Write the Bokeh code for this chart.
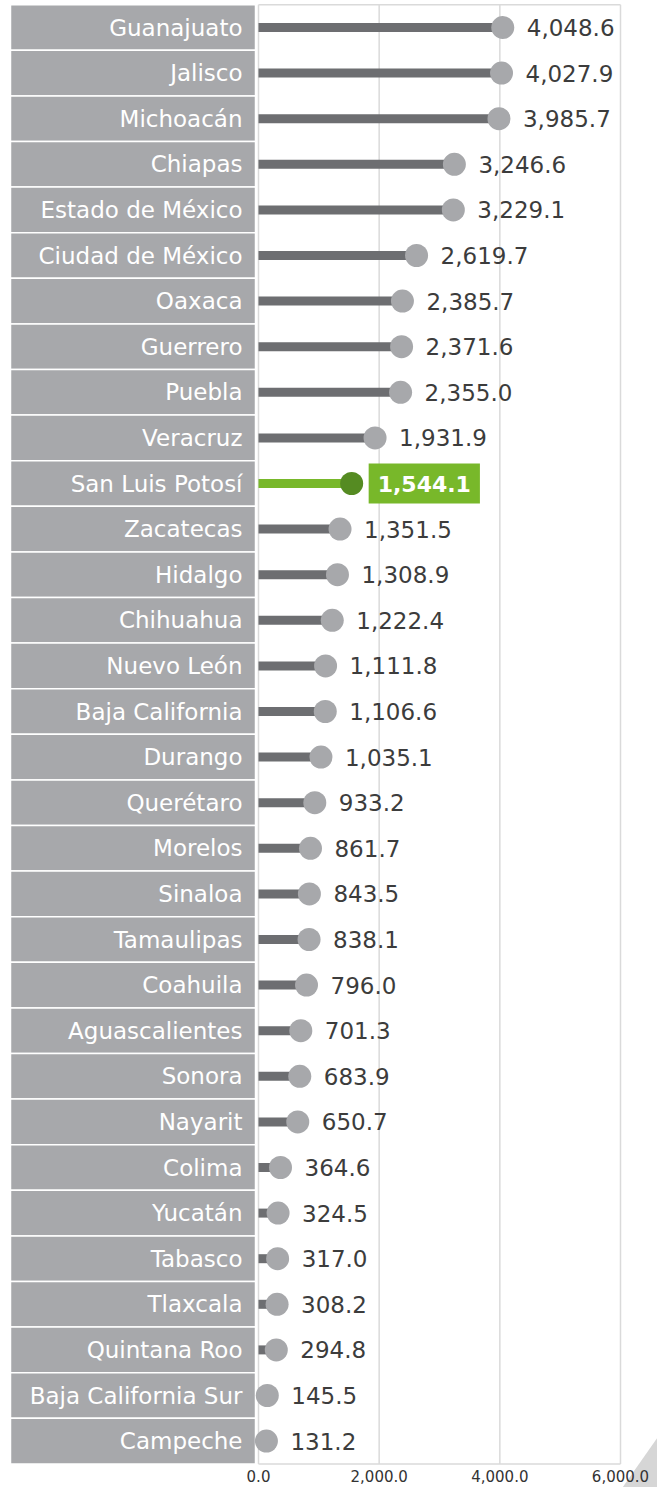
from bokeh.plotting import figure
from bokeh.models import Range1d, ColumnDataSource
from bokeh.core.properties import value
from bokeh.embed import file_html
from bokeh.resources import INLINE

states = ["Guanajuato", "Jalisco", "Michoacán", "Chiapas", "Estado de México",
          "Ciudad de México", "Oaxaca", "Guerrero", "Puebla", "Veracruz",
          "San Luis Potosí", "Zacatecas", "Hidalgo", "Chihuahua", "Nuevo León",
          "Baja California", "Durango", "Querétaro", "Morelos", "Sinaloa",
          "Tamaulipas", "Coahuila", "Aguascalientes", "Sonora", "Nayarit",
          "Colima", "Yucatán", "Tabasco", "Tlaxcala", "Quintana Roo",
          "Baja California Sur", "Campeche"]
values = [4048.6, 4027.9, 3985.7, 3246.6, 3229.1, 2619.7, 2385.7, 2371.6,
          2355.0, 1931.9, 1544.1, 1351.5, 1308.9, 1222.4, 1111.8, 1106.6,
          1035.1, 933.2, 861.7, 843.5, 838.1, 796.0, 701.3, 683.9, 650.7,
          364.6, 324.5, 317.0, 308.2, 294.8, 145.5, 131.2]
highlight = "San Luis Potosí"
tick_values = [0, 2000, 4000, 6000]
tick_labels = ["0.0", "2,000.0", "4,000.0", "6,000.0"]

FONT = "DejaVu Sans"
W, H = 657, 1487

# layout helpers (screen pixel -> data units)
K = 6000.0 / 362.0          # data units per px horizontally
ROW = 45.6                   # px per row
def xd(px):
    return (px - 258.0) * K
def yd(py):
    return (py - 27.0) / ROW

n = len(states)
idx = list(range(n))
fmt = ["{:,.1f}".format(v) for v in values]

p = figure(width=W, height=H, output_backend="svg", toolbar_location=None,
           x_range=Range1d(xd(0), xd(W)), y_range=Range1d(yd(H), yd(0)),
           x_axis_location=None, y_axis_location=None, min_border=0,
           outline_line_color=None, background_fill_color="white",
           border_fill_color="white")
p.grid.visible = False

# label boxes
p.quad(left=xd(10), right=xd(255), top=[i - 0.5 for i in idx],
       bottom=[i + 0.5 for i in idx], fill_color="#a7a8ab",
       line_color="white", line_width=1.5)
p.text(x=xd(242), y=idx, text=states, text_align="right",
       text_baseline="middle", text_color="white", text_font=value(FONT),
       text_font_size="23px")

# plot box + grid
grid_c = "#dadada"
p.segment(x0=tick_values, y0=-0.5, x1=tick_values, y1=n - 0.5,
          line_color=grid_c, line_width=1.5)
p.segment(x0=[0, 0], y0=[-0.5, n - 0.5], x1=[6000, 6000], y1=[-0.5, n - 0.5],
          line_color=grid_c, line_width=1.5)

# decorative triangle
p.patch(x=[xd(622), xd(657), xd(657)], y=[yd(1487), yd(1437), yd(1487)],
        fill_color="#d6d6d6", line_color=None)

# tick labels
p.text(x=tick_values, y=yd(1475), text=tick_labels, text_align="center",
       text_baseline="middle", text_color="#333333", text_font=value(FONT),
       text_font_size="15px")

bar_c = ["#78b82a" if s == highlight else "#6d6e71" for s in states]
dot_c = ["#558b22" if s == highlight else "#a7a8ab" for s in states]
src = ColumnDataSource(dict(y=idx, v=values, bar=bar_c, dot=dot_c, lab=fmt,
                            s=states))
p.segment(x0=0, y0="y", x1="v", y1="y", line_color="bar", line_width=9,
          source=src)
p.scatter(x="v", y="y", size=23, fill_color="dot", line_color=None,
          source=src)

norm = [i for i, s in enumerate(states) if s != highlight]
hi = [i for i, s in enumerate(states) if s == highlight]
p.text(x=[values[i] for i in norm], y=norm, text=[fmt[i] for i in norm],
       x_offset=24, text_align="left", text_baseline="middle",
       text_color="#3c3c3c", text_font=value(FONT), text_font_size="23px")
p.text(x=[values[i] for i in hi], y=hi, text=[fmt[i] for i in hi],
       x_offset=17, text_align="left", text_baseline="middle",
       text_color="white", text_font=value(FONT), text_font_style="bold",
       text_font_size="22px", background_fill_color="#78b82a",
       padding=dict(left=9, right=9, top=12, bottom=12))

open("out.html", "w").write(file_html(p, INLINE))
